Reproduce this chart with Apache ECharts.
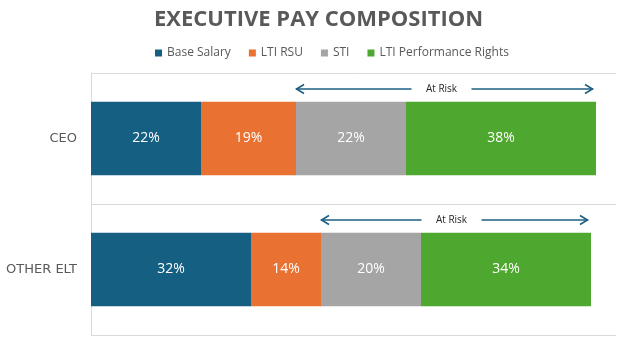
<!DOCTYPE html>
<html>
<head>
<meta charset="utf-8">
<script src="https://cdn.jsdelivr.net/npm/echarts@6/dist/echarts.min.js"></script>
<style>html,body{margin:0;padding:0;background:#fff}#c{width:627px;height:345px}</style>
</head>
<body>
<div id="c"></div>
<script>
var categories = ['CEO', 'OTHER ELT'];
var seriesNames = ['Base Salary', 'LTI RSU', 'STI', 'LTI Performance Rights'];
var baseSalary = [22, 32];
var ltiRsu = [19, 14];
var sti = [22, 20];
var ltiPerf = [38, 34];
var riskLabel = 'At Risk';
var colors = ['#156082', '#E97132', '#A5A5A5', '#4EA72E'];

var values = [baseSalary, ltiRsu, sti, ltiPerf];
var riskData = categories.map(function (c, i) {
  var start = baseSalary[i] + ltiRsu[i];
  var end = start + sti[i] + ltiPerf[i];
  return [i, start, end];
});

var chart = echarts.init(document.getElementById('c'), null, {renderer: 'canvas'});
var barSeries = seriesNames.map(function (n, k) {
  return {
    name: n, type: 'bar', stack: 'total', barWidth: '56%',
    itemStyle: {color: colors[k]},
    label: {show: true, position: 'inside', color: '#fff', fontSize: 14,
      fontFamily: 'Open Sans', formatter: '{c}%'},
    data: values[k]
  };
});
var arrowColor = '#1D5F83';
barSeries.push({
  type: 'custom', name: 'risk', silent: true, z: 5,
  encode: {y: 0, x: [1, 2]},
  data: riskData,
  renderItem: function (params, api) {
    var cat = api.value(0);
    var s = api.coord([api.value(1), cat]);
    var e = api.coord([api.value(2), cat]);
    var band = api.size([0, 1])[1];
    var y = s[1] - band * 0.378;
    var x1 = s[0], x2 = e[0] - 3;
    var mid = (x1 + x2) / 2 - 3;
    var gap = 30;
    var st = {stroke: arrowColor, lineWidth: 1.6, fill: null};
    return {type: 'group', children: [
      {type: 'line', shape: {x1: x1, y1: y, x2: mid - gap, y2: y}, style: st},
      {type: 'line', shape: {x1: mid + gap, y1: y, x2: x2, y2: y}, style: st},
      {type: 'polyline', shape: {points: [[x1 + 8, y - 4.5], [x1 + 0.5, y], [x1 + 8, y + 4.5]]}, style: st},
      {type: 'polyline', shape: {points: [[x2 - 8, y - 4.5], [x2 - 0.5, y], [x2 - 8, y + 4.5]]}, style: st},
      {type: 'text', style: {x: mid, y: y, text: riskLabel, align: 'center', verticalAlign: 'middle',
        fill: '#262626', fontSize: 10, fontFamily: 'Open Sans'}}
    ]};
  }
});

chart.setOption({
  animation: false,
  backgroundColor: '#fff',
  title: {text: 'EXECUTIVE PAY COMPOSITION', left: 149, top: 4,
    textStyle: {color: '#595959', fontSize: 22, fontWeight: 'bold', fontFamily: 'Open Sans'}},
  legend: {data: seriesNames, top: 42, left: 150, itemWidth: 7, itemHeight: 7, itemGap: 18,
    icon: 'rect', textStyle: {color: '#595959', fontSize: 12, fontFamily: 'Open Sans'}},
  grid: {left: 91, right: 11, top: 73, bottom: 10, containLabel: false},
  xAxis: {type: 'value', min: 0, max: 105, show: false},
  yAxis: {type: 'category', data: categories, inverse: true,
    axisLine: {show: true, lineStyle: {color: '#D9D9D9'}},
    axisTick: {show: false},
    splitLine: {show: true, lineStyle: {color: '#D9D9D9'}},
    axisLabel: {color: '#595959', fontSize: 13, fontFamily: 'DejaVu Sans', margin: 14}
  },
  series: barSeries
});
</script>
</body>
</html>
